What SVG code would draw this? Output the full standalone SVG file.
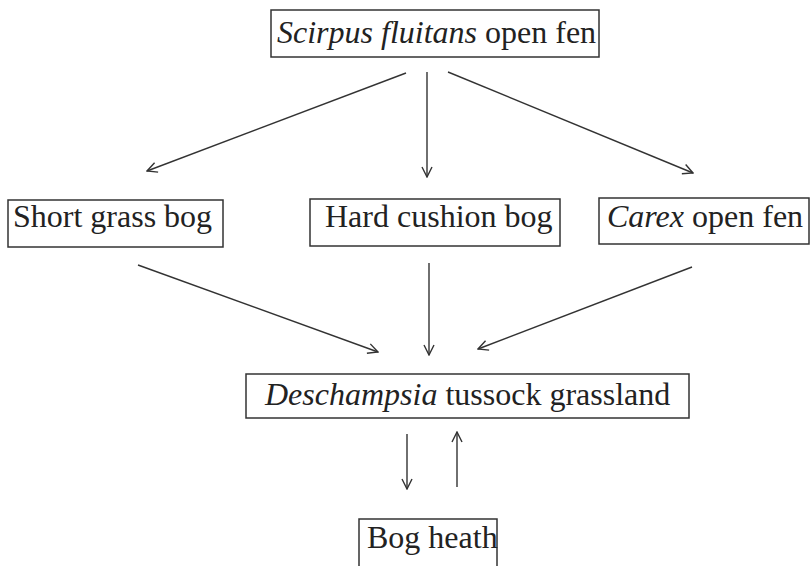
<svg xmlns="http://www.w3.org/2000/svg" width="811" height="566" viewBox="0 0 811 566">
<style>
.box{fill:#fff;stroke:#333;stroke-width:1.5}
.t{font-family:"Liberation Serif","Times New Roman",serif;font-size:32px;fill:#222}
.i{font-style:italic}
.c{fill:none;stroke:#333;stroke-width:1.4}
</style>
<defs>
<marker id="ah" viewBox="0 0 12 12" refX="11" refY="6" markerWidth="12" markerHeight="12" markerUnits="userSpaceOnUse" orient="auto">
<path d="M1,1 L11,6 L1,11" fill="none" stroke="#333" stroke-width="1.4"/>
</marker>
</defs>
<rect width="811" height="566" fill="#fff"/>
<g id="connectors">
<line class="c" x1="406" y1="73" x2="147" y2="171" marker-end="url(#ah)"/>
<line class="c" x1="427" y1="72" x2="427" y2="177" marker-end="url(#ah)"/>
<line class="c" x1="448" y1="72" x2="693" y2="173" marker-end="url(#ah)"/>
<line class="c" x1="138" y1="265" x2="378" y2="352" marker-end="url(#ah)"/>
<line class="c" x1="429" y1="263" x2="429" y2="355" marker-end="url(#ah)"/>
<line class="c" x1="692" y1="267" x2="478" y2="349" marker-end="url(#ah)"/>
<line class="c" x1="407" y1="434" x2="407" y2="489" marker-end="url(#ah)"/>
<line class="c" x1="457" y1="487" x2="457" y2="432" marker-end="url(#ah)"/>
</g>
<g id="scirpus">
<rect class="box" x="271" y="10" width="328" height="47"/>
<text class="t" x="277" y="43"><tspan class="i">Scirpus fluitans</tspan> open fen</text>
</g>
<g id="shortgrass">
<rect class="box" x="8" y="200" width="215" height="47"/>
<text class="t" x="13" y="227">Short grass bog</text>
</g>
<g id="hardcushion">
<rect class="box" x="310" y="199" width="250" height="47"/>
<text class="t" x="325" y="227">Hard cushion bog</text>
</g>
<g id="carex">
<rect class="box" x="599" y="198" width="210" height="46"/>
<text class="t" x="607" y="227"><tspan class="i">Carex</tspan> open fen</text>
</g>
<g id="deschampsia">
<rect class="box" x="246" y="374" width="443" height="44"/>
<text class="t" x="265" y="405"><tspan class="i">Deschampsia</tspan> tussock grassland</text>
</g>
<g id="bogheath">
<rect class="box" x="359" y="519" width="138" height="60"/>
<text class="t" x="367" y="548">Bog heath</text>
</g>
</svg>
